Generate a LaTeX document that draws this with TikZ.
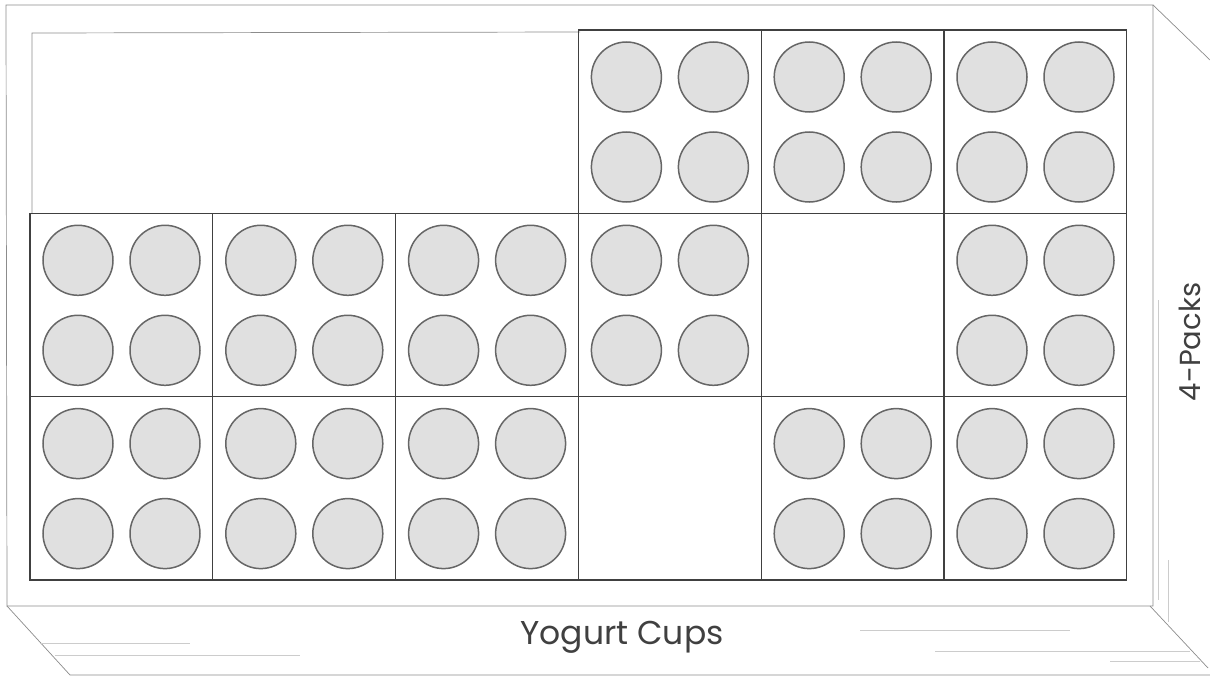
\documentclass[tikz,border=0pt]{standalone}
\usepackage{fontspec}
\setmainfont{Poppins}
\begin{document}
\begin{tikzpicture}[x=1pt,y=-1pt,
  boxline/.style={draw=black!45,line width=0.7pt},
  faint/.style={draw=black!20,line width=0.5pt},
  cellbox/.style={draw=black!75,line width=1.3pt},
  cup/.style={circle,draw=black!60,fill=black!12,line width=1.5pt,minimum size=70pt,inner sep=0pt},
  lbl/.style={text=black!75}]
\useasboundingbox (0,0) rectangle (1210,677);
% box outline
\draw[boxline] (6,5) -- (1153,5) -- (1153,606) -- (7,606) -- cycle;
\draw[boxline] (7,606) -- (70,675) -- (1210,675);
\draw[boxline] (1150,606) -- (1208,668);
\draw[boxline] (1153,5) -- (1210,60);
\draw[faint] (1158,300) -- (1158,600);
\draw[faint] (1168,560) -- (1168,622);
% faint marks on bottom face
\draw[faint] (40,643) -- (190,643);
\draw[faint] (55,655) -- (300,655);
\draw[faint] (860,630) -- (1070,630);
\draw[faint] (935,651) -- (1190,651);
\draw[faint] (1110,661) -- (1200,661);
% inner faint border of top-left empty area
\draw[boxline] (32,214) -- (32,33) -- (580,32);
% cells: col,row,hascups
\foreach \c/\r/\f in {3/0/1,4/0/1,5/0/1,
  0/1/1,1/1/1,2/1/1,3/1/1,4/1/0,5/1/1,
  0/2/1,1/2/1,2/2/1,3/2/0,4/2/1,5/2/1}{
  \pgfmathsetmacro{\xa}{30+182.8*\c}
  \pgfmathsetmacro{\ya}{30+183.3*\r}
  \draw[cellbox] (\xa,\ya) rectangle ++(182.8,183.3);
  \ifnum\f=1
    \node[cup] (cupA\c\r) at (\xa+48,\ya+47) {};
    \node[cup] (cupB\c\r) at (\xa+135,\ya+47) {};
    \node[cup] (cupC\c\r) at (\xa+48,\ya+137) {};
    \node[cup] (cupD\c\r) at (\xa+135,\ya+137) {};
  \fi
}
\node[lbl,font=\fontsize{33}{38}\selectfont] (yc) at (622,637) {Yogurt Cups};
\node[lbl,rotate=90,font=\fontsize{29}{34}\selectfont] (fp) at (1190,342) {4-Packs};
\end{tikzpicture}
\end{document}
